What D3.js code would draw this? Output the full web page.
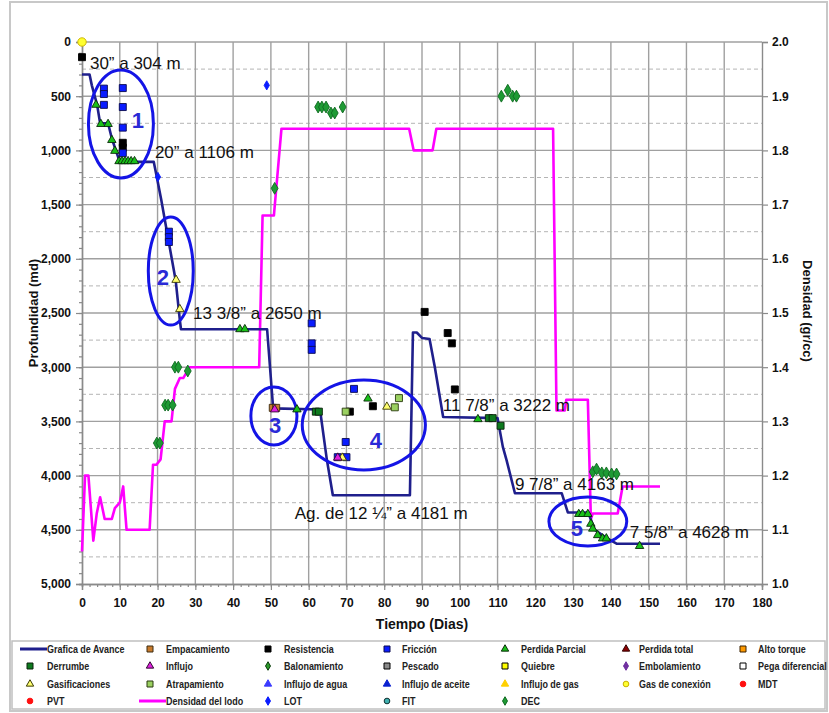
<!DOCTYPE html>
<html>
<head>
<meta charset="utf-8">
<script src="https://cdn.jsdelivr.net/npm/d3@7"></script>
<style>
  html, body { margin: 0; padding: 0; background: #fff; }
  svg { display: block; }
  text { font-family: "Liberation Sans", Arial, sans-serif; }
</style>
</head>
<body>
<script>
// ---- Well progress: [day, measured depth (m)] ----
const avance = [
  [0,300],[2,300],[2.6,400],[4,580],[4.8,750],[6.9,750],[7.9,890],[9,1005],[10,1106],[19,1106],
  [19.8,1245],[21,1460],[22.4,1735],[24.8,2200],[25.9,2565],[26.2,2650],[49,2650],[50.6,3380],
  [63,3390],[64.8,3850],[66.4,4181],[86.8,4181],[87.6,2680],[88.6,2680],[90,2730],[92,2740],
  [93.4,3000],[95.6,3460],[110,3470],[111.4,3735],[112.4,3860],[114.6,4163],[127,4163],
  [128.6,4340],[134,4340],[135.7,4500],[138.8,4575],[141.5,4628],[153,4628]
];

// ---- Mud density: [day, gr/cc] ----
const densidad = [
  [0,1.06],[0.8,1.2],[1.7,1.2],[3,1.08],[3.9,1.13],[4.8,1.16],[6,1.12],[7.9,1.12],[8.7,1.14],
  [10,1.15],[10.9,1.18],[11.8,1.1],[17.9,1.1],[18.8,1.22],[19.7,1.22],[20.8,1.23],[21.9,1.3],
  [23.7,1.3],[24.6,1.36],[25.9,1.38],[26.8,1.38],[28.5,1.4],[46.9,1.4],[47.8,1.68],[50.8,1.68],
  [52.8,1.84],[86.6,1.84],[87.8,1.8],[92.8,1.8],[93.8,1.84],[124.7,1.84],[125.6,1.32],
  [127.8,1.32],[128.2,1.34],[133.9,1.34],[134.7,1.12],[135.2,1.13],[141.8,1.13],[143.1,1.18],[153,1.18]
];

// ---- Drilling events on the depth axis: [day, depth] ----
const resistencia = [[0,140],[10.8,930],[10.8,975],[70.9,3410],[77,3360],[90.7,2490],[96.8,2685],[97.9,2780],[98.7,3205]];
const friccion = [[5.8,430],[5.8,480],[5.8,580],[10.8,425],[10.8,600],[10.8,790],[10.8,1025],
  [23,1750],[23,1800],[23,1845],[60.8,2595],[60.8,2780],[60.8,2840],[72,3200],[69.8,3690],[67.7,3830],[70,3830]];
const perdidaParcial = [[3.7,580],[5,757],[6.9,757],[7.9,905],[8.7,1005],
  [9.8,1100],[10.6,1100],[11.4,1100],[12.2,1100],[13,1100],[13.9,1100],
  [41.8,2650],[43.1,2650],[56.9,3390],[75.7,3290],[104.8,3480],
  [131.5,4355],[132.5,4355],[133.9,4355],[134.7,4445],[135.2,4490],[136.5,4550],[137.8,4580],[138.8,4580],[147.6,4650]];
const gasificaciones = [[24.9,2195],[25.9,2465],[80.7,3365],[68.9,3835]];
const influjo = [[51,3390],[67.7,3835]];
const empacamiento = [[50.5,3375],[51.4,3375]];
const derrumbe = [[61.9,3410],[62.7,3410],[107.7,3470],[108.7,3470],[110.8,3540]];
const atrapamiento = [[69.8,3410],[82.8,3370],[83.9,3285]];
const gasConexion = [[0,0]];

// ---- Events on the density axis: [day, gr/cc] ----
const dec = [[19.8,1.26],[20.6,1.26],[22,1.33],[22.8,1.33],[24,1.33],[24.6,1.4],[25.5,1.4],[28,1.393],
  [51,1.73],[62.5,1.88],[63.5,1.88],[64.6,1.88],[65.9,1.869],[66.9,1.869],[69,1.88],
  [111,1.9],[112.7,1.911],[114,1.9],[115,1.9],
  [135.2,1.207],[136.2,1.212],[137.6,1.205],[138.8,1.205],[140.2,1.203],[141.5,1.203]];
const lot = [[20.1,1.751],[48.9,1.92]];

// ---- Casing annotations: [text, day, depth] ----
const casingLabels = [
  ["30” a 304 m", 2.1, 194],
  ["20” a 1106 m", 19.3, 1015],
  ["13 3/8” a 2650 m", 29.4, 2500],
  ["11 7/8” a 3222 m", 95.5, 3349],
  ["Ag. de 12 ¼” a 4181 m", 56.3, 4345],
  ["9 7/8” a 4163 m", 114.6, 4077],
  ["7 5/8” a 4628 m", 145, 4520]
];

// ---- Problem zones: [label, centre day, centre depth, half-width days, half-height m, label day, label depth] ----
const zonas = [
  ["1", 10.3, 756, 8.6, 498, 14.8, 720],
  ["2", 23.5, 2113, 5.95, 498, 21.4, 2168],
  ["3", 50.8, 3450, 6.1, 268, 51.1, 3533],
  ["4", 74.6, 3533, 16.3, 415, 77.8, 3672],
  ["5", 133.9, 4423, 10.3, 226, 131, 4483]
];

// ---- Axis ticks ----
const diasTicks = d3.range(0, 181, 10);
const profTicks = d3.range(0, 5001, 500);
const densTicks = d3.range(10, 21, 1).map(v => v / 10);

// ---- Legend entries (row-major, 7 columns) ----
const leyenda = [
  ["Grafica de Avance","avance"],["Empacamiento","empacamiento"],["Resistencia","resistencia"],
  ["Fricción","friccion"],["Perdida Parcial","perdidaParcial"],["Perdida total","perdidaTotal"],["Alto torque","altoTorque"],
  ["Derrumbe","derrumbe"],["Influjo","influjo"],["Balonamiento","balonamiento"],["Pescado","pescado"],
  ["Quiebre","quiebre"],["Embolamiento","embolamiento"],["Pega diferencial","pegaDiferencial"],
  ["Gasificaciones","gasificaciones"],["Atrapamiento","atrapamiento"],["Influjo de agua","influjoAgua"],
  ["Influjo de aceite","influjoAceite"],["Influjo de gas","influjoGas"],["Gas de conexión","gasConexion"],["MDT","mdt"],
  ["PVT","pvt"],["Densidad del lodo","densidad"],["LOT","lot"],["FIT","fit"],["DEC","dec"]
];

// Marker appearance per event type
const estilos = {
  avance:          {line:"#1f1f8c"},
  densidad:        {line:"#ff00ff"},
  empacamiento:    {shape:"square",   fill:"#c87a2c", stroke:"#3a2a10"},
  resistencia:     {shape:"square",   fill:"#000000", stroke:"#000000"},
  friccion:        {shape:"square",   fill:"#0a1cff", stroke:"#0a0a50"},
  perdidaParcial:  {shape:"triangle", fill:"#19c019", stroke:"#0a2a0a"},
  perdidaTotal:    {shape:"triangle", fill:"#8b0000", stroke:"#300000"},
  altoTorque:      {shape:"square",   fill:"#ff9a00", stroke:"#3a2000"},
  derrumbe:        {shape:"square",   fill:"#0d7a1e", stroke:"#0a200a"},
  influjo:         {shape:"triangle", fill:"#e020e0", stroke:"#300a30"},
  balonamiento:    {shape:"diamond",  fill:"#2a9a2a", stroke:"#0a3a0a"},
  pescado:         {shape:"square",   fill:"#8a8a8a", stroke:"#000000"},
  quiebre:         {shape:"square",   fill:"#ffff00", stroke:"#000000"},
  embolamiento:    {shape:"diamond",  fill:"#7030a0", stroke:"#7030a0"},
  pegaDiferencial: {shape:"square",   fill:"#ffffff", stroke:"#000000"},
  gasificaciones:  {shape:"triangle", fill:"#ffff70", stroke:"#3a3a00"},
  atrapamiento:    {shape:"square",   fill:"#9ad060", stroke:"#2a3a10"},
  influjoAgua:     {shape:"triangle", fill:"#3a3aff", stroke:"#3a3aff"},
  influjoAceite:   {shape:"triangle", fill:"#0a20d0", stroke:"#0a20d0"},
  influjoGas:      {shape:"triangle", fill:"#ffd000", stroke:"#ffd000"},
  gasConexion:     {shape:"circle",   fill:"#ffff30", stroke:"#c8b000"},
  mdt:             {shape:"circle",   fill:"#ff1010", stroke:"#ff1010"},
  pvt:             {shape:"circle",   fill:"#ff1010", stroke:"#ff1010"},
  lot:             {shape:"diamond",  fill:"#0a1cff", stroke:"#0a1cff"},
  fit:             {shape:"circle",   fill:"#40b0b0", stroke:"#103030"},
  dec:             {shape:"diamond",  fill:"#1e9a34", stroke:"#0f6a20"}
};

const W = 829, H = 713;
const svg = d3.select("body").append("svg").attr("width", W).attr("height", H);
svg.append("rect").attr("width", W).attr("height", H).attr("fill", "#fff");

// outer chart frame
svg.append("rect").attr("x", 10).attr("y", 2).attr("width", 817).attr("height", 709)
  .attr("fill", "none").attr("stroke", "#c8c8c8").attr("stroke-width", 2);

const x = d3.scaleLinear().domain([0, 180]).range([82, 762]);
const y = d3.scaleLinear().domain([0, 5000]).range([42, 584]);
const y2 = d3.scaleLinear().domain([1, 2]).range([584, 42]);

// ---- grid ----
const grid = svg.append("g");
grid.selectAll("line.hmin").data(d3.range(250, 5000, 500)).join("line")
  .attr("x1", x(0)).attr("x2", x(180)).attr("y1", d => y(d)).attr("y2", d => y(d))
  .attr("stroke", "#b4b4b4").attr("stroke-width", 1).attr("stroke-dasharray", "4,3");
grid.selectAll("line.hmaj").data(profTicks.slice(0, -1)).join("line")
  .attr("x1", x(0)).attr("x2", x(180)).attr("y1", d => y(d)).attr("y2", d => y(d))
  .attr("stroke", "#a0a0a0").attr("stroke-width", 1.4);
grid.selectAll("line.v").data(diasTicks.slice(1, -1)).join("line")
  .attr("y1", y(0)).attr("y2", y(5000)).attr("x1", d => x(d)).attr("x2", d => x(d))
  .attr("stroke", "#a0a0a0").attr("stroke-width", 1.4);

// ---- axes ----
function styleAxis(g) {
  g.select(".domain").attr("stroke", "#8a8a8a").attr("stroke-width", 1.4);
  g.selectAll(".tick line").attr("stroke", "#8a8a8a").attr("stroke-width", 1.2);
  g.selectAll(".tick text").attr("fill", "#111").attr("font-size", 12).attr("font-weight", "bold")
    .attr("font-family", "'Liberation Sans', Arial, sans-serif");
}
svg.append("g").attr("transform", `translate(${x(0)},0)`)
  .call(d3.axisLeft(y).tickValues(d3.range(0, 5001, 100)).tickSize(3).tickFormat(""))
  .call(styleAxis);
svg.append("g").attr("transform", `translate(${x(0)},0)`)
  .call(d3.axisLeft(y).tickValues(profTicks).tickSize(6).tickPadding(5).tickFormat(d3.format(",")))
  .call(styleAxis);
svg.append("g").attr("transform", `translate(0,${y(5000)})`)
  .call(d3.axisBottom(x).tickValues(d3.range(0, 181, 2)).tickSize(3).tickFormat(""))
  .call(styleAxis);
svg.append("g").attr("transform", `translate(0,${y(5000)})`)
  .call(d3.axisBottom(x).tickValues(diasTicks).tickSize(6).tickPadding(8).tickFormat(d3.format("d")))
  .call(styleAxis);
svg.append("g").attr("transform", `translate(${x(180)},0)`)
  .call(d3.axisRight(y2).tickValues(densTicks).tickSize(6).tickPadding(4).tickFormat(d3.format(".1f")))
  .call(styleAxis);

// axis titles
svg.append("text").attr("x", 422).attr("y", 629).attr("text-anchor", "middle")
  .attr("font-size", 14).attr("font-weight", "bold").attr("fill", "#111").text("Tiempo (Dias)");
svg.append("text").attr("transform", "translate(38,313) rotate(-90)").attr("text-anchor", "middle")
  .attr("font-size", 13).attr("font-weight", "bold").attr("fill", "#111").text("Profundidad (md)");
svg.append("text").attr("transform", "translate(803,311) rotate(90)").attr("text-anchor", "middle")
  .attr("font-size", 13).attr("font-weight", "bold").attr("fill", "#111").text("Densidad (gr/cc)");

// ---- lines ----
const lineDepth = d3.line().x(d => x(d[0])).y(d => y(d[1]));
const lineDens = d3.line().x(d => x(d[0])).y(d => y2(d[1]));
svg.append("path").datum(densidad).attr("d", lineDens).attr("fill", "none")
  .attr("stroke", estilos.densidad.line).attr("stroke-width", 2.6).attr("stroke-linejoin", "round");
svg.append("path").datum(avance).attr("d", lineDepth).attr("fill", "none")
  .attr("stroke", estilos.avance.line).attr("stroke-width", 2.6).attr("stroke-linejoin", "round");

// ---- problem zone ellipses ----
const zg = svg.append("g");
zg.selectAll("ellipse").data(zonas).join("ellipse")
  .attr("cx", d => x(d[1])).attr("cy", d => y(d[2]))
  .attr("rx", d => x(d[3]) - x(0)).attr("ry", d => y(d[4]) - y(0))
  .attr("fill", "none").attr("stroke", "#1414e6").attr("stroke-width", 3);

// ---- markers ----
function symbolPath(shape, s) {
  if (shape === "square") return d3.symbol(d3.symbolSquare, s * s)();
  if (shape === "triangle") return d3.symbol(d3.symbolTriangle, s * s * 0.48)();
  if (shape === "diamond") return d3.symbol(d3.symbolDiamond, s * s * 0.5)();
  return d3.symbol(d3.symbolCircle, s * s * 0.7)();
}
function drawMarkers(data, key, yScale, size) {
  const st = estilos[key];
  svg.append("g").selectAll("path").data(data).join("path")
    .attr("transform", d => `translate(${x(d[0])},${yScale(d[1])})`)
    .attr("d", symbolPath(st.shape, size))
    .attr("fill", st.fill).attr("stroke", st.stroke).attr("stroke-width", 0.9);
}
drawMarkers(dec, "dec", y2, 9);
drawMarkers(lot, "lot", y2, 7);
drawMarkers(resistencia, "resistencia", y, 7);
drawMarkers(friccion, "friccion", y, 7);
drawMarkers(empacamiento, "empacamiento", y, 7);
drawMarkers(derrumbe, "derrumbe", y, 7);
drawMarkers(atrapamiento, "atrapamiento", y, 7);
drawMarkers(perdidaParcial, "perdidaParcial", y, 8);
drawMarkers(gasificaciones, "gasificaciones", y, 8);
drawMarkers(influjo, "influjo", y, 8);
drawMarkers(gasConexion, "gasConexion", y, 9);

// ---- casing labels ----
svg.append("g").selectAll("text").data(casingLabels).join("text")
  .attr("x", d => x(d[1])).attr("y", d => y(d[2])).attr("dy", "0.35em")
  .attr("font-size", 17).attr("fill", "#111").text(d => d[0]);

// zone numbers
zg.selectAll("text").data(zonas).join("text")
  .attr("x", d => x(d[5])).attr("y", d => y(d[6])).attr("dy", "0.36em").attr("text-anchor", "middle")
  .attr("font-size", 22).attr("font-weight", "bold").attr("fill", "#2a2ad6").text(d => d[0]);

// ---- legend ----
svg.append("rect").attr("x", 12).attr("y", 641).attr("width", 813).attr("height", 68)
  .attr("fill", "#fff").attr("stroke", "#c0c0c0").attr("stroke-width", 1.5);
const colMarker = [30, 150, 268, 387, 505, 626, 743];
const colText = [47, 166, 284, 402, 521, 639, 758];
const rowY = [649, 666, 684, 701];
const lg = svg.append("g");
leyenda.forEach(([name, key], i) => {
  const c = i % 7, r = Math.floor(i / 7);
  const st = estilos[key];
  const cy = rowY[r];
  if (st.line) {
    lg.append("line").attr("x1", colText[c] - 27).attr("x2", colText[c]).attr("y1", cy).attr("y2", cy)
      .attr("stroke", st.line).attr("stroke-width", 3);
  } else {
    const s = st.shape === "square" ? 6 : st.shape === "triangle" ? 7 : st.shape === "diamond" ? 6.5 : 6;
    lg.append("path").attr("transform", `translate(${colMarker[c]},${cy})`)
      .attr("d", symbolPath(st.shape, s)).attr("fill", st.fill).attr("stroke", st.stroke).attr("stroke-width", 1);
  }
  // condensed bold label
  lg.append("text").attr("transform", `translate(${colText[c]},${cy}) scale(0.78,1)`)
    .attr("dy", "0.35em")
    .attr("font-size", 11.5).attr("font-weight", "bold").attr("fill", "#222")
    .text(name);
});
</script>
</body>
</html>
